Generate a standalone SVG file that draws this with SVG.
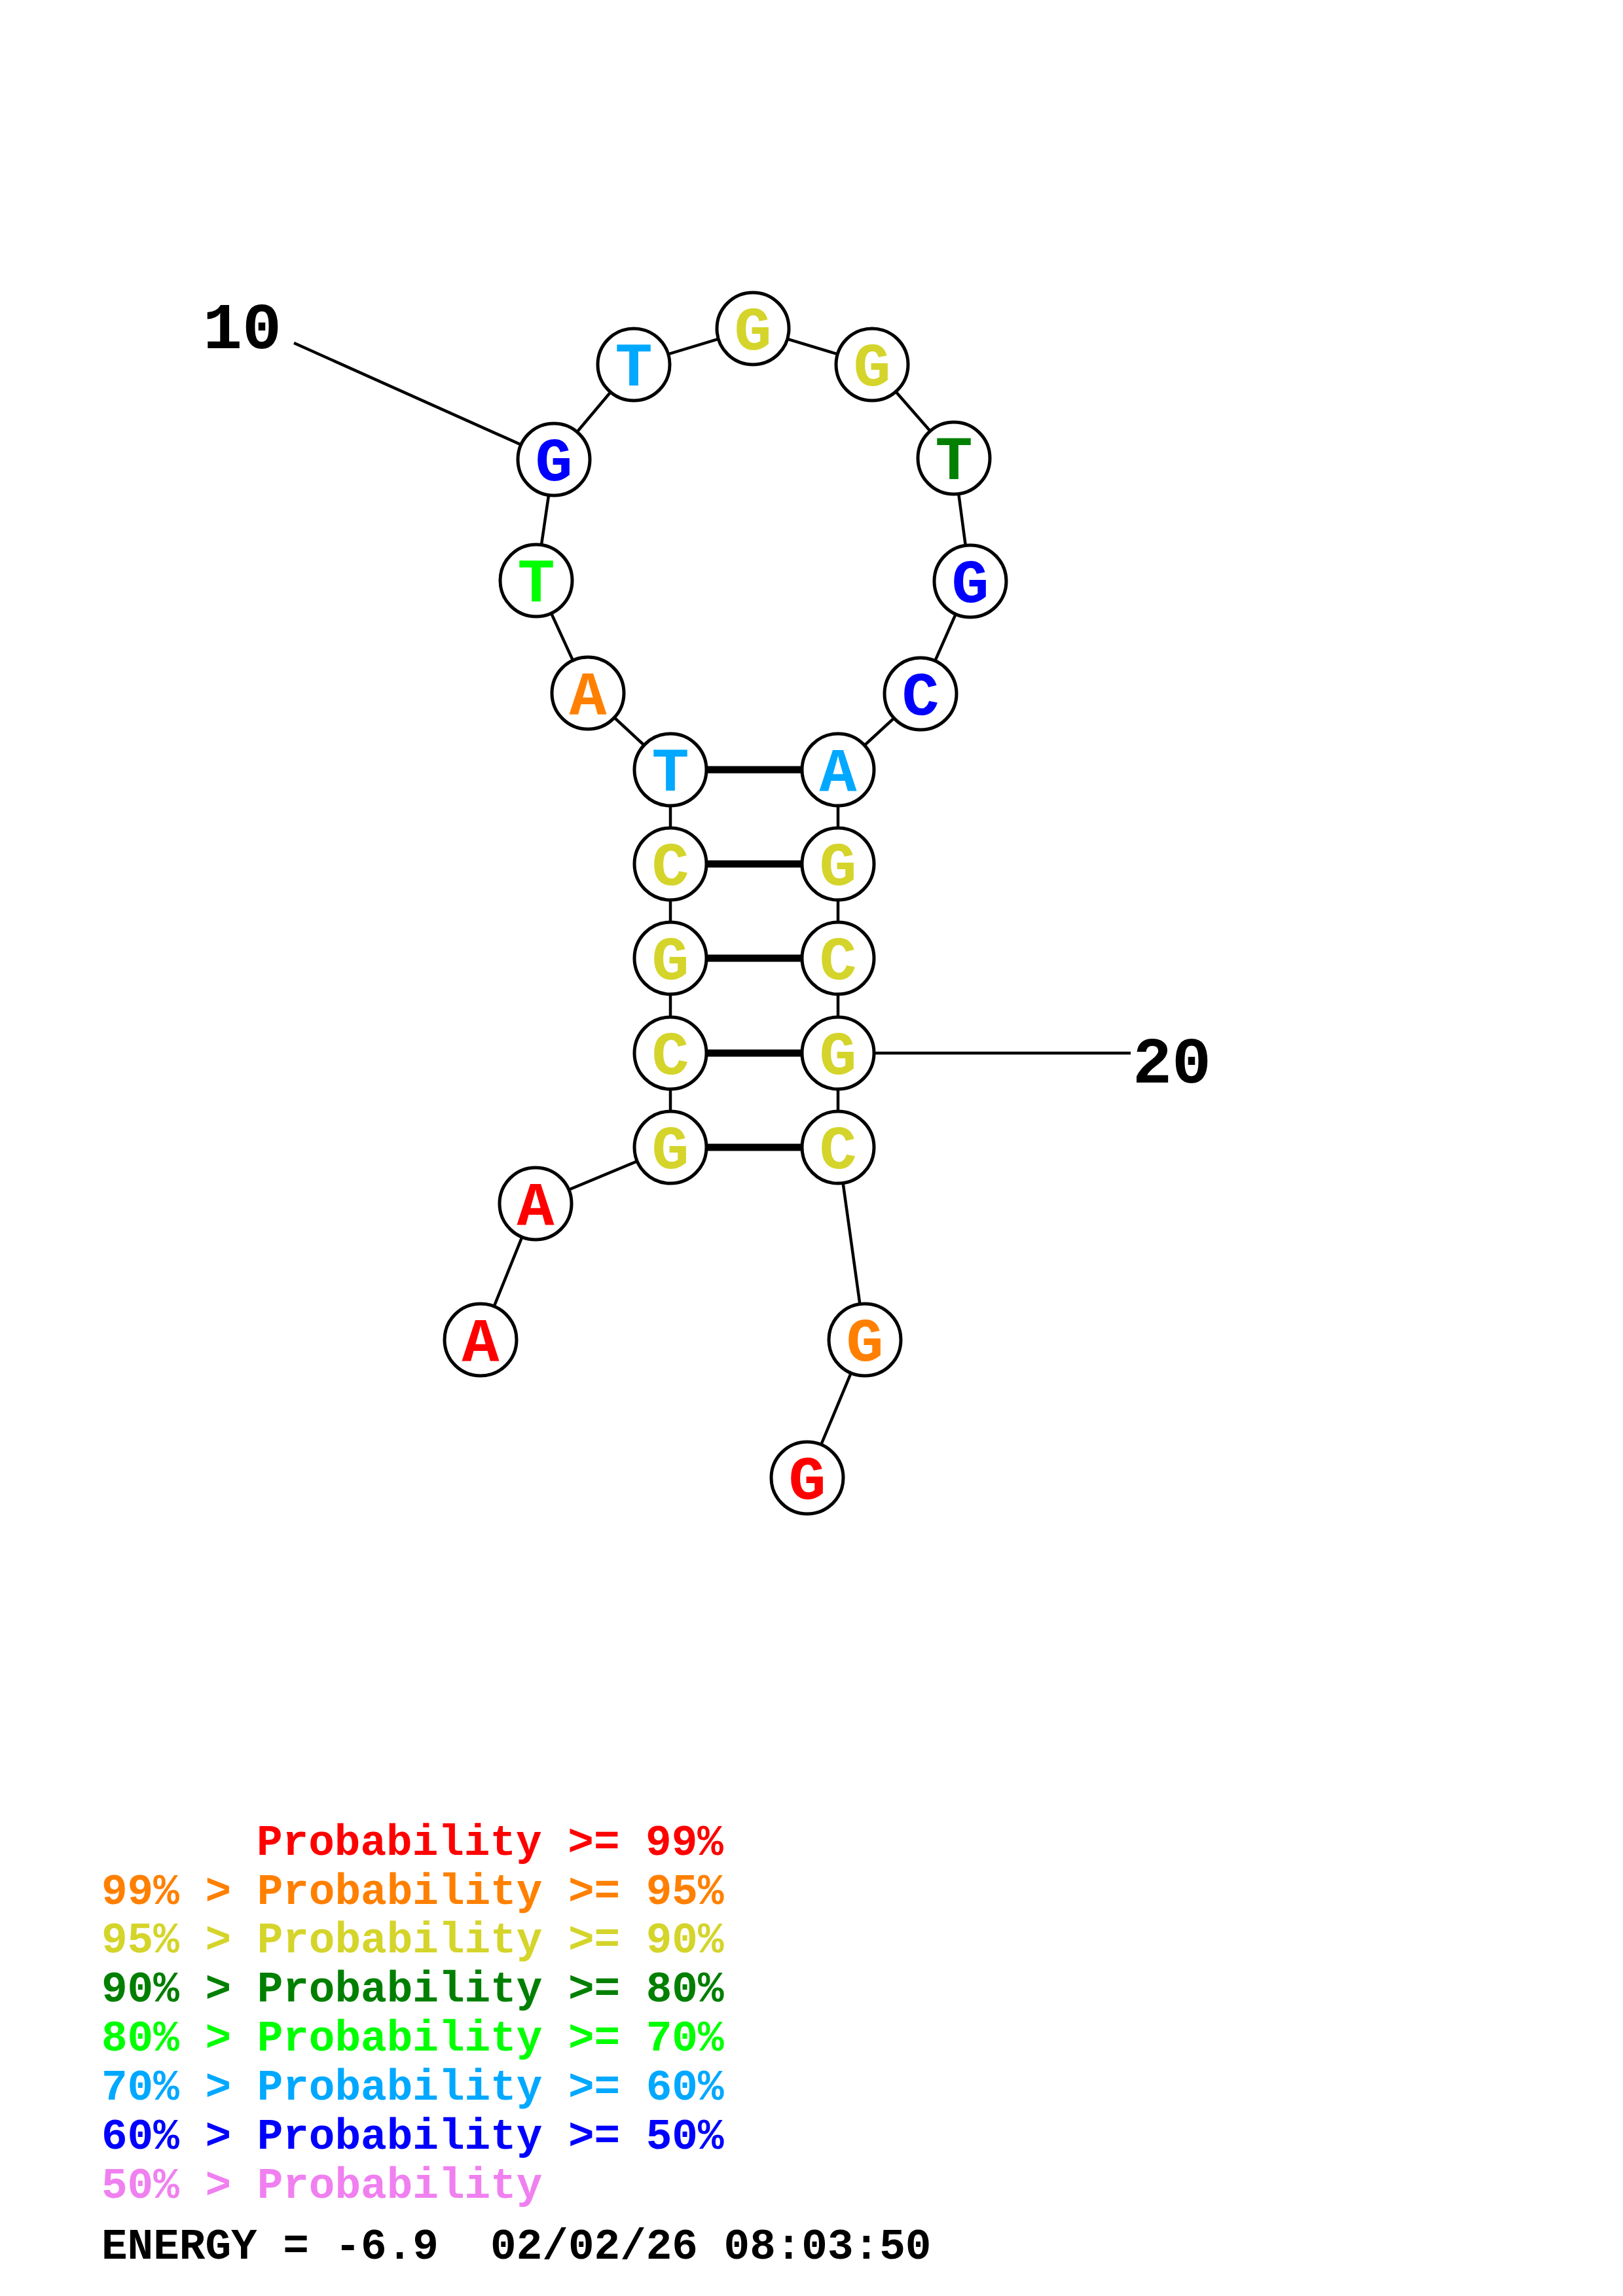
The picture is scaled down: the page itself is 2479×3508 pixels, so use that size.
<svg xmlns="http://www.w3.org/2000/svg" width="2479" height="3508" viewBox="0 0 2479 3508">
<style>
.bb{stroke:#000;stroke-width:4.5;fill:none}
.pr{stroke:#000;stroke-width:11;fill:none}
.nd circle{fill:#fff;stroke:#000;stroke-width:5}
.nd text{font-family:"Liberation Mono",monospace;font-weight:bold;font-size:95px;text-anchor:middle}
.lbl{font-family:"Liberation Mono",monospace;font-weight:bold;font-size:100px;fill:#000}
.lg{font-family:"Liberation Mono",monospace;font-weight:bold;font-size:66px;white-space:pre}
.r{fill:#FF0000}.o{fill:#FF8000}.y{fill:#D4D42B}.dg{fill:#007F00}.g{fill:#00FF00}.lb{fill:#00A8FF}.b{fill:#0000FF}.p{fill:#F080F0}
</style>
<rect width="2479" height="3508" fill="#fff"/>
<g id="connectors">
<polyline class="bb" points="734,2047 818,1839 1024,1753 1024,1609 1024,1464 1024,1320 1024,1176 898,1059 819,887 846,702 968,557 1150,502 1332,557 1457,700 1482,888 1406,1060 1280,1176 1280,1320 1280,1464 1280,1609 1280,1753 1321,2047 1233,2258"/>
<line class="pr" x1="1024" y1="1176" x2="1280" y2="1176"/>
<line class="pr" x1="1024" y1="1320" x2="1280" y2="1320"/>
<line class="pr" x1="1024" y1="1464" x2="1280" y2="1464"/>
<line class="pr" x1="1024" y1="1609" x2="1280" y2="1609"/>
<line class="pr" x1="1024" y1="1753" x2="1280" y2="1753"/>
<line class="bb" x1="449" y1="524" x2="846" y2="702"/>
<line class="bb" x1="1280" y1="1609" x2="1727" y2="1609"/>
</g>
<g id="n1" class="nd"><circle cx="734" cy="2047" r="55"/><text x="734" y="2079" class="r">A</text></g>
<g id="n2" class="nd"><circle cx="818" cy="1839" r="55"/><text x="818" y="1871" class="r">A</text></g>
<g id="n3" class="nd"><circle cx="1024" cy="1753" r="55"/><text x="1024" y="1785" class="y">G</text></g>
<g id="n4" class="nd"><circle cx="1024" cy="1609" r="55"/><text x="1024" y="1641" class="y">C</text></g>
<g id="n5" class="nd"><circle cx="1024" cy="1464" r="55"/><text x="1024" y="1496" class="y">G</text></g>
<g id="n6" class="nd"><circle cx="1024" cy="1320" r="55"/><text x="1024" y="1352" class="y">C</text></g>
<g id="n7" class="nd"><circle cx="1024" cy="1176" r="55"/><text x="1024" y="1208" class="lb">T</text></g>
<g id="n8" class="nd"><circle cx="898" cy="1059" r="55"/><text x="898" y="1091" class="o">A</text></g>
<g id="n9" class="nd"><circle cx="819" cy="887" r="55"/><text x="819" y="919" class="g">T</text></g>
<g id="n10" class="nd"><circle cx="846" cy="702" r="55"/><text x="846" y="734" class="b">G</text></g>
<g id="n11" class="nd"><circle cx="968" cy="557" r="55"/><text x="968" y="589" class="lb">T</text></g>
<g id="n12" class="nd"><circle cx="1150" cy="502" r="55"/><text x="1150" y="534" class="y">G</text></g>
<g id="n13" class="nd"><circle cx="1332" cy="557" r="55"/><text x="1332" y="589" class="y">G</text></g>
<g id="n14" class="nd"><circle cx="1457" cy="700" r="55"/><text x="1457" y="732" class="dg">T</text></g>
<g id="n15" class="nd"><circle cx="1482" cy="888" r="55"/><text x="1482" y="920" class="b">G</text></g>
<g id="n16" class="nd"><circle cx="1406" cy="1060" r="55"/><text x="1406" y="1092" class="b">C</text></g>
<g id="n17" class="nd"><circle cx="1280" cy="1176" r="55"/><text x="1280" y="1208" class="lb">A</text></g>
<g id="n18" class="nd"><circle cx="1280" cy="1320" r="55"/><text x="1280" y="1352" class="y">G</text></g>
<g id="n19" class="nd"><circle cx="1280" cy="1464" r="55"/><text x="1280" y="1496" class="y">C</text></g>
<g id="n20" class="nd"><circle cx="1280" cy="1609" r="55"/><text x="1280" y="1641" class="y">G</text></g>
<g id="n21" class="nd"><circle cx="1280" cy="1753" r="55"/><text x="1280" y="1785" class="y">C</text></g>
<g id="n22" class="nd"><circle cx="1321" cy="2047" r="55"/><text x="1321" y="2079" class="o">G</text></g>
<g id="n23" class="nd"><circle cx="1233" cy="2258" r="55"/><text x="1233" y="2290" class="r">G</text></g>
<text class="lbl" x="310" y="532">10</text>
<text class="lbl" x="1730" y="1654">20</text>
<g id="legend">
<text class="lg r" x="392" y="2834">Probability &gt;= 99%</text>
<text class="lg o" x="155" y="2909">99% &gt; Probability &gt;= 95%</text>
<text class="lg y" x="155" y="2983">95% &gt; Probability &gt;= 90%</text>
<text class="lg dg" x="155" y="3058">90% &gt; Probability &gt;= 80%</text>
<text class="lg g" x="155" y="3133">80% &gt; Probability &gt;= 70%</text>
<text class="lg lb" x="155" y="3208">70% &gt; Probability &gt;= 60%</text>
<text class="lg b" x="155" y="3283">60% &gt; Probability &gt;= 50%</text>
<text class="lg p" x="155" y="3358">50% &gt; Probability</text>
<text class="lg" x="155" y="3451" fill="#000">ENERGY = -6.9  02/02/26 08:03:50</text>
</g>
</svg>
